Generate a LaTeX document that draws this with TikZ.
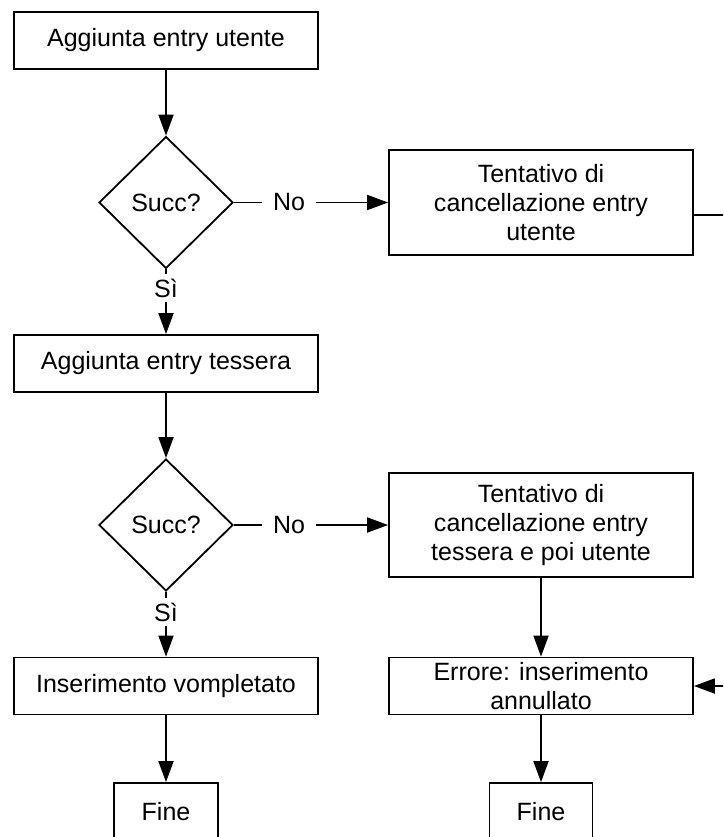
\documentclass[tikz,border=0pt]{standalone}
\usepackage{fontspec}
\setmainfont{Liberation Sans}
\usetikzlibrary{arrows.meta,shapes.geometric}

\begin{document}
\begin{tikzpicture}[x=1pt,y=-1pt,
  every node/.style={font=\fontsize{25}{29}\selectfont},
  box/.style={draw, line width=1.8pt, rectangle, inner sep=0pt,
    minimum width=304pt, minimum height=57pt, align=center},
  decision/.style={draw, line width=1.8pt, diamond, aspect=1, inner sep=0pt,
    minimum width=134pt, minimum height=132pt},
  lbl/.style={inner xsep=11pt, inner ysep=5pt},
  conn/.style={line width=1.8pt},
  flow/.style={conn, -{Triangle[length=21pt,width=15pt]}}
]
\useasboundingbox (0,0) rectangle (723,837);
\clip (0,0) rectangle (723,837);

% left column
\node[box] (add1) at (166,40.5) {Aggiunta entry utente};
\node[decision] (dec1) at (166,202.5) {Succ?};
\node[lbl] (no1) at (289,202.5) {No};
\node[lbl, inner ysep=4pt] (si1) at (166,288) {Sì};
\node[box] (add2) at (166,363.5) {Aggiunta entry tessera};
\node[decision] (dec2) at (166,525) {Succ?};
\node[lbl] (no2) at (289,525) {No};
\node[lbl, inner ysep=4pt] (si2) at (166,612) {Sì};
\node[box] (done) at (166,686) {Inserimento vompletato};
\node[box, minimum width=104pt] (fine1) at (166,811.5) {Fine};

% right column
\node[box, minimum height=105pt] (canc1) at (541,202.5)
  {Tentativo di\\cancellazione entry\\utente};
\node[box, minimum height=104pt] (canc2) at (541,525)
  {Tentativo di\\cancellazione entry\\tessera e poi utente};
\node[box] (err) at (541,686)
  {Errore: inserimento\\annullato};
\node[box, minimum width=103pt] (fine2) at (541,811.5) {Fine};

% free ends beyond the right margin
\coordinate (outA) at (740,215);
\coordinate (outB) at (740,686);

% connectors
\draw[flow] (add1.south) -- (dec1.north);
\draw[conn] (dec1.east) -- (no1.west);
\draw[flow] (no1.east) -- (no1.east -| canc1.west);
\draw[conn] (dec1.south) -- (si1.north);
\draw[flow] (si1.south) -- (add2.north);
\draw[conn] (canc1.east |- outA) -- (outA);

\draw[flow] (add2.south) -- (dec2.north);
\draw[conn] (dec2.east) -- (no2.west);
\draw[flow] (no2.east) -- (no2.east -| canc2.west);
\draw[conn] (dec2.south) -- (si2.north);
\draw[flow] (si2.south) -- (done.north);

\draw[flow] (done.south) -- (fine1.north);
\draw[flow] (canc2.south) -- (err.north);
\draw[flow] (err.south) -- (fine2.north);
\draw[flow] (outB) -- (err.east);
\end{tikzpicture}
\end{document}
